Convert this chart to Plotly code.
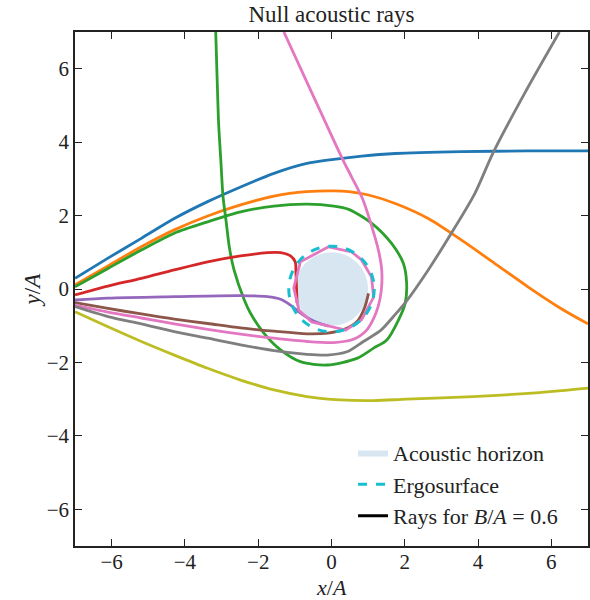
import plotly.graph_objects as go

# ---- data ----
blue_x = [-7, -6.1, -5.19, -4.29, -3.38, -2.48, -1.57, -0.67, 0.06, 0.83, 1.74, 3.55, 5.36, 7]
blue_y = [0.29, 0.84, 1.38, 1.92, 2.38, 2.78, 3.15, 3.42, 3.53, 3.62, 3.69, 3.74, 3.76, 3.76]

orange_x = [-7, -6.1, -5.19, -4.29, -3.38, -2.48, -1.57, -0.67, 0.06, 0.47, 1.01, 1.74, 2.64, 3.55, 4.45, 5.36, 6.26, 7]
orange_y = [0.11, 0.63, 1.15, 1.61, 1.99, 2.29, 2.53, 2.65, 2.67, 2.65, 2.56, 2.33, 1.92, 1.33, 0.70, 0.06, -0.53, -0.95]

green_x = [-7, -6.1, -5.19, -4.29, -3.38, -2.48, -1.57, -0.67, 0.06, 0.47, 1.10, 1.64, 1.96, 2.05, 2.01, 1.83,
           1.51, 1.15, 0.69, -0.12, -0.85, -1.39, -1.84, -2.21, -2.38, -2.66, -2.79, -2.88, -2.96, -3.02, -3.08, -3.12, -3.16]
green_y = [0.06, 0.56, 1.06, 1.52, 1.83, 2.10, 2.26, 2.31, 2.26, 2.17, 1.79, 1.24, 0.70, 0.16, -0.39, -0.84,
           -1.39, -1.61, -1.89, -2.07, -1.98, -1.66, -1.21, -0.66, -0.30, 0.52, 1.15, 1.88, 2.51, 3.5, 4.5, 5.7, 7.0]

red_x = [-7, -6.1, -5.19, -4.29, -3.38, -2.48, -1.75, -1.39, -1.12, -0.99, -0.97, -0.96, -0.95, -0.94]
red_y = [-0.16, 0.08, 0.29, 0.52, 0.74, 0.90, 0.99, 0.99, 0.90, 0.74, 0.43, 0.16, -0.11, -0.38]

purple_x = [-7, -6.1, -4.29, -2.48, -1.75, -1.39, -1.12, -0.89, -0.62, -0.35, -0.08]
purple_y = [-0.30, -0.25, -0.21, -0.18, -0.21, -0.28, -0.44, -0.62, -0.80, -0.93, -1.01]

brown_x = [-7, -6.1, -5.19, -4.29, -3.38, -2.48, -1.57, -0.67, -0.10, 0.35, 0.72, 0.90, 1.01]
brown_y = [-0.37, -0.53, -0.68, -0.82, -0.94, -1.06, -1.15, -1.22, -1.20, -1.10, -0.86, -0.52, -0.12]

pink_x = [-7, -6.1, -5.19, -4.29, -3.38, -2.48, -1.57, -0.67, 0.06, 0.60, 0.96, 1.15, 1.28, 1.36, 1.37,
          1.28, 1.10, 0.85, 0.55, 0.29, -0.53, -1.30]
pink_y = [-0.44, -0.63, -0.79, -0.95, -1.10, -1.23, -1.34, -1.43, -1.46, -1.37, -1.12, -0.80, -0.45, -0.03, 0.52,
          1.06, 1.70, 2.45, 3.05, 3.56, 5.33, 7.0]

pink_loop_x = [-0.08, -0.85, -1.03, -0.89, -0.54, 0.39, 0.82, 1.15, 1.09, 0.82, 0.55, -0.08]
pink_loop_y = [1.15, 0.74, 0.03, -0.57, -0.90, -1.12, -0.84, -0.22, 0.33, 0.79, 1.01, 1.15]

gray_x = [-7, -6.1, -5.19, -4.29, -3.38, -2.48, -1.57, -0.67, -0.12, 0.42, 0.87, 1.35, 1.69, 2.03, 2.64, 3.27, 3.91, 4.40, 5.27, 6.22]
gray_y = [-0.48, -0.75, -0.95, -1.16, -1.34, -1.52, -1.68, -1.78, -1.80, -1.71, -1.43, -1.12, -0.75, -0.35, 0.52, 1.52, 2.60, 3.69, 5.33, 7.0]

olive_x = [-7, -6.1, -5.19, -4.29, -3.38, -2.48, -1.57, -0.67, 0.24, 1.15, 2.05, 3.86, 5.68, 7]
olive_y = [-0.62, -1.03, -1.43, -1.80, -2.16, -2.48, -2.75, -2.93, -3.02, -3.04, -3.00, -2.93, -2.82, -2.70]

horizon_r = 1.0
ergo_r = 1.166
tick_vals = [-6, -4, -2, 0, 2, 4, 6]

rays = [
    (blue_x, blue_y, "#1f77b4", "spline"),
    (orange_x, orange_y, "#ff7f0e", "spline"),
    (green_x, green_y, "#2ca02c", "spline"),
    (red_x, red_y, "#d62728", "spline"),
    (purple_x, purple_y, "#9467bd", "spline"),
    (brown_x, brown_y, "#8c564b", "spline"),
    (pink_x, pink_y, "#e377c2", "spline"),
    (pink_loop_x, pink_loop_y, "#e377c2", "linear"),
    (gray_x, gray_y, "#7f7f7f", "spline"),
    (olive_x, olive_y, "#bcbd22", "spline"),
]

FONT = "Liberation Serif"
TXT = "#222"
fig = go.Figure()

for xs, ys, col, shape in rays:
    fig.add_trace(go.Scatter(x=xs, y=ys, mode="lines", showlegend=False, hoverinfo="skip",
                             line=dict(color=col, width=2.8, shape=shape, smoothing=0.8 if shape == "spline" else None)))

# legend proxies
fig.add_trace(go.Scatter(x=[None, None, None], y=[None, None, None], mode="lines", fill="toself",
                         fillcolor="rgba(31,119,180,0.18)", line=dict(width=0, color="rgba(0,0,0,0)"),
                         name="Acoustic horizon"))
fig.add_trace(go.Scatter(x=[None], y=[None], mode="lines", line=dict(color="#17becf", width=3, dash="dash"),
                         name="Ergosurface"))
fig.add_trace(go.Scatter(x=[None], y=[None], mode="lines", line=dict(color="black", width=3),
                         name="Rays for <i>B</i>/<i>A</i> = 0.6"))

fig.add_shape(type="circle", xref="x", yref="y", x0=-horizon_r, y0=-horizon_r, x1=horizon_r, y1=horizon_r,
              fillcolor="rgba(31,119,180,0.18)", line=dict(width=0), layer="below")
fig.add_shape(type="circle", xref="x", yref="y", x0=-ergo_r, y0=-ergo_r, x1=ergo_r, y1=ergo_r,
              line=dict(color="#17becf", width=3, dash="dash"), layer="above")

axis_common = dict(range=[-7, 7], tickvals=tick_vals, ticks="inside", ticklen=7, tickwidth=1,
                   tickcolor=TXT, showline=True, linecolor=TXT, linewidth=1.5, mirror="ticks",
                   showgrid=False, zeroline=False, tickfont=dict(family=FONT, size=21, color=TXT))

fig.add_annotation(text="<i>x</i>/<i>A</i>", xref="paper", yref="paper", x=0.5, y=-0.081,
                   xanchor="center", yanchor="middle", showarrow=False,
                   font=dict(family=FONT, size=22, color=TXT))
fig.add_annotation(text="<i>y</i>/<i>A</i>", xref="paper", yref="paper", x=-0.083, y=0.5,
                   xanchor="center", yanchor="middle", showarrow=False, textangle=-90,
                   font=dict(family=FONT, size=23, color=TXT))

fig.update_layout(
    width=590, height=600,
    margin=dict(l=75, r=0, t=32, b=54),
    plot_bgcolor="white", paper_bgcolor="white",
    title=dict(text="Null acoustic rays", x=0.5, xref="paper", y=1 - 14 / 600, yref="container",
               yanchor="middle", font=dict(family=FONT, size=23, color=TXT)),
    xaxis=dict(**axis_common, ticklabelstandoff=-4),
    yaxis=dict(**axis_common),
    legend=dict(x=0.542, y=0.018, xanchor="left", yanchor="bottom", bgcolor="rgba(0,0,0,0)",
                font=dict(family=FONT, size=22, color=TXT), tracegroupgap=0),
    showlegend=True,
)

fig.write_html("out.html")
